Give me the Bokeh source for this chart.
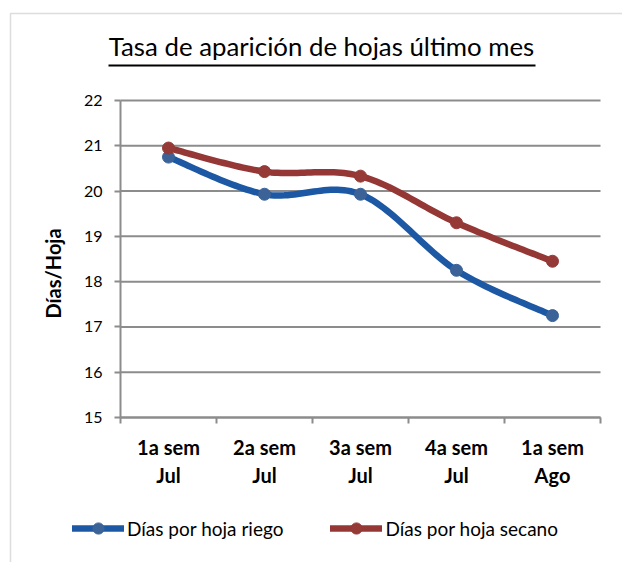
import numpy as np
from bokeh.plotting import figure
from bokeh.models import (Range1d, FixedTicker, Legend, LegendItem, Label,
                          BoxAnnotation)
from bokeh.embed import file_html
from bokeh.resources import INLINE

categories = ["1a sem\nJul", "2a sem\nJul", "3a sem\nJul", "4a sem\nJul", "1a sem\nAgo"]
riego = [20.75, 19.93, 19.93, 18.25, 17.25]
secano = [20.95, 20.43, 20.33, 19.30, 18.45]
series_names = ["Días por hoja riego", "Días por hoja secano"]
y_ticks = [15, 16, 17, 18, 19, 20, 21, 22]
title_text = "Tasa de aparición de hojas último mes"
y_title = "Días/Hoja"

FONT = "Lato"
BLUE_LINE = "#1C58A3"
BLUE_MARK = "#3C6398"
RED_LINE = "#953735"
RED_MARK = "#953A37"
GRID = "#8C8C8C"

# layout (pixels of the canvas): the whole canvas is the frame
W, H = 622, 562
PL, PR, PT, PB = 120, 600, 100, 417   # plot area box
ncat = len(categories)
ymin, ymax = y_ticks[0], y_ticks[-1]
kx = ncat / (PR - PL)
ky = (ymax - ymin) / (PB - PT)

xs = np.arange(ncat) + 0.5


def smooth(x, y, n=30):
    x = np.asarray(x, float)
    y = np.asarray(y, float)
    px = np.concatenate([[x[0]], x, [x[-1]]])
    py = np.concatenate([[y[0]], y, [y[-1]]])
    ox, oy = [], []
    t = np.linspace(0, 1, n)
    for i in range(1, len(px) - 2):
        p0 = np.array([px[i], py[i]])
        p3 = np.array([px[i + 1], py[i + 1]])
        c1 = p0 + (np.array([px[i + 1], py[i + 1]]) - np.array([px[i - 1], py[i - 1]])) / 6
        c2 = p3 - (np.array([px[i + 2], py[i + 2]]) - np.array([px[i], py[i]])) / 6
        b = ((1 - t) ** 3)[:, None] * p0 + (3 * (1 - t) ** 2 * t)[:, None] * c1 \
            + (3 * (1 - t) * t ** 2)[:, None] * c2 + (t ** 3)[:, None] * p3
        ox.extend(b[:, 0]); oy.extend(b[:, 1])
    return ox, oy


p = figure(width=W, height=H, output_backend="svg", toolbar_location=None,
           x_range=Range1d(-PL * kx, (W - PL) * kx),
           y_range=Range1d(ymin - (H - PB) * ky, ymax + PT * ky),
           min_border=0, title=None)
p.outline_line_color = None
p.background_fill_color = "white"
p.border_fill_color = "white"
p.xgrid.visible = False
p.ygrid.visible = False

# horizontal gridlines across the plot area only
p.segment(x0=0, x1=ncat, y0=y_ticks, y1=y_ticks, line_color=GRID, line_width=2)

# x axis
p.xaxis.fixed_location = ymin
p.xaxis.bounds = (0, ncat)
p.xaxis.ticker = FixedTicker(ticks=list(xs), minor_ticks=list(range(ncat + 1)))
p.xaxis.major_label_overrides = {float(x): c for x, c in zip(xs, categories)}
p.xaxis.major_tick_out = 0
p.xaxis.major_tick_in = 0
p.xaxis.minor_tick_out = 6
p.xaxis.minor_tick_in = 0
p.xaxis.minor_tick_line_color = GRID
p.xaxis.minor_tick_line_width = 2
p.xaxis.axis_line_color = GRID
p.xaxis.axis_line_width = 2
p.xaxis.major_label_text_font = FONT
p.xaxis.major_label_text_font_style = "bold"
p.xaxis.major_label_text_font_size = "20px"
p.xaxis.major_label_text_color = "black"
p.xaxis.major_label_standoff = 11

# y axis
p.yaxis.fixed_location = 0
p.yaxis.bounds = (ymin, ymax)
p.yaxis.ticker = FixedTicker(ticks=y_ticks)
p.yaxis.major_tick_out = 6
p.yaxis.major_tick_in = 0
p.yaxis.minor_tick_line_color = None
p.yaxis.major_tick_line_color = GRID
p.yaxis.major_tick_line_width = 2
p.yaxis.axis_line_color = GRID
p.yaxis.axis_line_width = 2
p.yaxis.major_label_text_font = FONT
p.yaxis.major_label_text_font_size = "16px"
p.yaxis.major_label_text_color = "black"
p.yaxis.major_label_standoff = 12

# y axis title
p.add_layout(Label(x=52, y=H - 273, x_units="screen", y_units="screen",
                   text=y_title, angle=np.pi / 2, text_font=FONT,
                   text_font_size="20px", text_font_style="bold",
                   text_align="center", text_baseline="middle", text_color="black"))

items = []
for vals, name, lc, mc in [(riego, series_names[0], BLUE_LINE, BLUE_MARK),
                           (secano, series_names[1], RED_LINE, RED_MARK)]:
    sx, sy = smooth(xs, vals)
    lr = p.line(sx, sy, line_color=lc, line_width=6.5, line_join="round", line_cap="round")
    sr = p.scatter(xs, vals, size=12, fill_color=mc, line_color=mc)
    items.append(LegendItem(label=name, renderers=[lr, sr]))

legend = Legend(items=items, orientation="horizontal", location=(72, 20),
                label_text_font=FONT, label_text_font_size="19px",
                label_text_color="black", glyph_width=52, glyph_height=28,
                spacing=47, border_line_color=None, background_fill_alpha=0,
                margin=0, padding=0, label_standoff=3)
p.add_layout(legend, "center")

# title with underline
p.add_layout(Label(x=321, y=H - 45.5, x_units="screen", y_units="screen",
                   text=title_text, text_font=FONT, text_font_size="25.8px",
                   text_align="center", text_baseline="middle", text_color="black"))
p.add_layout(BoxAnnotation(left=108, right=535, bottom=H - 66, top=H - 64,
                           left_units="screen", right_units="screen",
                           bottom_units="screen", top_units="screen",
                           fill_color="black", fill_alpha=1, line_color=None))

# chart area border (continues past the right and bottom edges)
p.add_layout(BoxAnnotation(left=10, right=W + 40, bottom=-40, top=H - 13,
                           left_units="screen", right_units="screen",
                           bottom_units="screen", top_units="screen",
                           fill_alpha=0, line_color="#8E8E8E", line_width=1.5))

open("out.html", "w").write(file_html(p, INLINE))
